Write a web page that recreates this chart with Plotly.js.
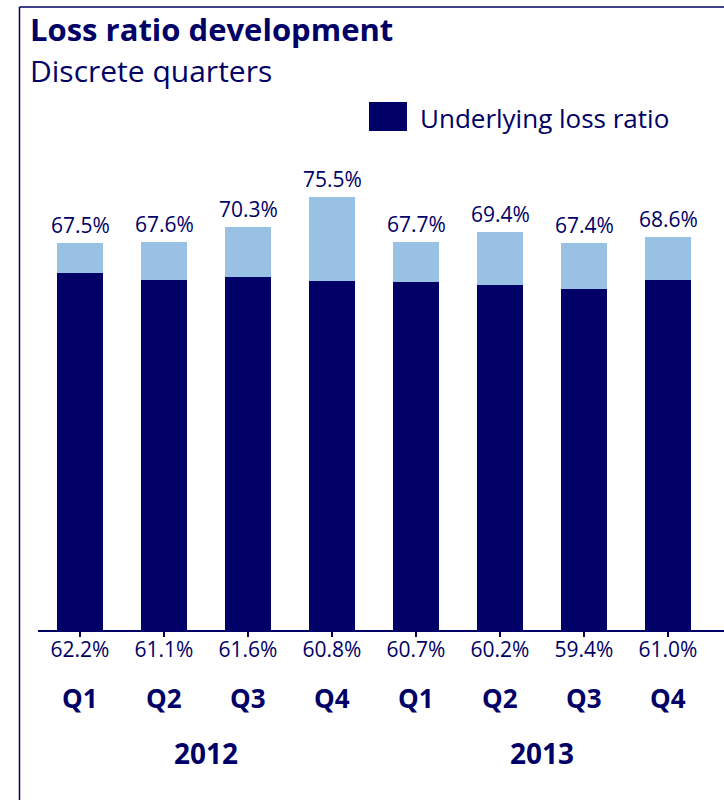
<!DOCTYPE html>
<html>
<head>
<meta charset="utf-8">
<script src="https://cdn.plot.ly/plotly-3.0.1.min.js"></script>
<style>
  html, body { margin: 0; padding: 0; background: #ffffff; }
  #chart { width: 724px; height: 800px; }
</style>
</head>
<body>
<div id="chart"></div>
<script>
// ---- Data ----
const quarters = ['Q1', 'Q2', 'Q3', 'Q4', 'Q1', 'Q2', 'Q3', 'Q4'];
const years = ['2012', '2013'];
const quartersPerYear = 4;
const totalLossRatio = [67.5, 67.6, 70.3, 75.5, 67.7, 69.4, 67.4, 68.6];
const underlyingLossRatio = [62.2, 61.1, 61.6, 60.8, 60.7, 60.2, 59.4, 61.0];

// ---- Styles ----
const NAVY = '#000066';
const LIGHT = '#98c1e3';
const FONT = '"Open Sans", "Noto Sans", sans-serif';

const xIdx = quarters.map((_, i) => i);
const topPart = totalLossRatio.map((t, i) => +(t - underlyingLossRatio[i]).toFixed(1));
const pct = v => v.toFixed(1) + '%';

const traces = [
  {
    type: 'bar', x: xIdx, y: underlyingLossRatio, name: 'Underlying loss ratio',
    marker: { color: NAVY }, width: 0.548, showlegend: false, hoverinfo: 'skip'
  },
  {
    type: 'bar', x: xIdx, y: topPart, name: 'Loss ratio',
    marker: { color: LIGHT }, width: 0.548, showlegend: false, hoverinfo: 'skip'
  }
];

const annotations = [];
// totals above bars
totalLossRatio.forEach((t, i) => {
  annotations.push({
    x: i, y: t, xref: 'x', yref: 'y', text: pct(t), showarrow: false,
    yanchor: 'bottom', yshift: 2, font: { family: FONT, size: 21, color: NAVY }
  });
});
// quarter labels
quarters.forEach((q, i) => {
  annotations.push({
    x: i, y: -0.1283, xref: 'x', yref: 'paper', text: '<b>' + q + '</b>', showarrow: false,
    yanchor: 'middle', font: { family: FONT, size: 26, color: NAVY }
  });
});
// year labels
years.forEach((yr, k) => {
  annotations.push({
    x: k * quartersPerYear + (quartersPerYear - 1) / 2, y: -0.2321, xref: 'x', yref: 'paper',
    text: '<b>' + yr + '</b>', showarrow: false, yanchor: 'middle',
    font: { family: FONT, size: 28, color: NAVY }
  });
});
// subtitle
annotations.push({
  x: -0.0146, y: (630 - 70) / 530, xref: 'paper', yref: 'paper', xanchor: 'left', yanchor: 'middle',
  text: 'Discrete quarters', showarrow: false, font: { family: FONT, size: 30, color: NAVY }
});
// legend text
annotations.push({
  x: 0.554, y: 0.966, xref: 'paper', yref: 'paper', xanchor: 'left', yanchor: 'middle',
  text: 'Underlying loss ratio', showarrow: false, font: { family: FONT, size: 26, color: NAVY }
});

const shapes = [
  // legend swatch
  { type: 'rect', xref: 'paper', yref: 'paper', x0: 0.4825, x1: 0.5379, y0: 0.9415, y1: 0.9962,
    fillcolor: NAVY, line: { width: 0 } },
  // frame: left and top border
  { type: 'line', xref: 'paper', yref: 'paper', x0: -0.027, x1: -0.027, y0: -0.33, y1: 1.1755,
    line: { color: NAVY, width: 1.5 } },
  { type: 'line', xref: 'paper', yref: 'paper', x0: -0.027, x1: 1.01, y0: 1.1755, y1: 1.1755,
    line: { color: NAVY, width: 1.5 } }
];

const layout = {
  width: 724, height: 800,
  margin: { l: 38, r: 0, t: 100, b: 170, pad: 0 },
  paper_bgcolor: '#ffffff', plot_bgcolor: '#ffffff',
  barmode: 'stack',
  title: {
    text: '<b>Loss ratio development</b>', xref: 'container', yref: 'container',
    x: 30 / 724, xanchor: 'left', y: 1 - 30 / 800, yanchor: 'middle',
    font: { family: FONT, size: 31, color: NAVY }
  },
  xaxis: {
    range: [-0.5, 7.6667], tickmode: 'array', tickvals: xIdx,
    ticktext: underlyingLossRatio.map(pct),
    tickfont: { family: FONT, size: 21, color: NAVY },
    ticks: 'outside', ticklen: 5, tickwidth: 1.5, tickcolor: NAVY,
    ticklabelstandoff: -5,
    showline: true, linecolor: NAVY, linewidth: 1.5,
    showgrid: false, zeroline: false, fixedrange: true
  },
  yaxis: {
    range: [0, 92.42], visible: false, showgrid: false, zeroline: false, fixedrange: true
  },
  showlegend: false,
  annotations: annotations,
  shapes: shapes
};

Plotly.newPlot('chart', traces, layout, { displayModeBar: false, staticPlot: true });
</script>
</body>
</html>
